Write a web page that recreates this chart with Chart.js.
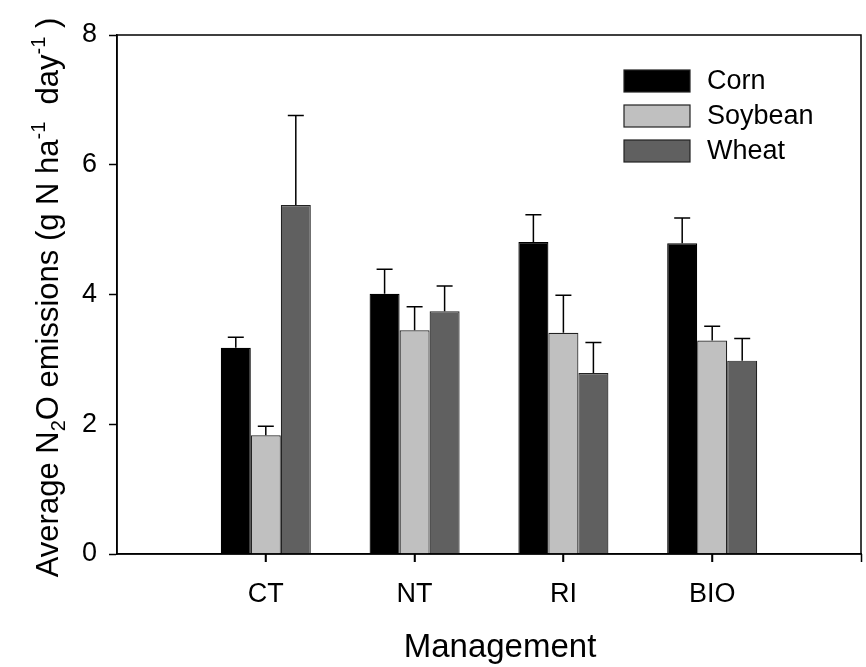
<!DOCTYPE html>
<html>
<head>
<meta charset="utf-8">
<script src="https://cdn.jsdelivr.net/npm/chart.js@4.4.1/dist/chart.umd.min.js"></script>
<style>
  html, body { margin: 0; padding: 0; background: #fff; }
  #chart { display: block; }
</style>
</head>
<body>
<canvas id="chart" width="866" height="667"></canvas>
<script>
// average N2O emissions per management system
let categories = ["CT", "NT", "RI", "BIO"];
let corn = [3.18, 4.01, 4.81, 4.79];
let cornErr = [0.16, 0.38, 0.42, 0.39];
let soybean = [1.83, 3.45, 3.41, 3.29];
let soybeanErr = [0.14, 0.36, 0.58, 0.22];
let wheat = [5.38, 3.74, 2.79, 2.98];
let wheatErr = [1.38, 0.39, 0.47, 0.34];
let yTicks = [0, 2, 4, 6, 8];

const FONT = "'Liberation Sans', Arial, Helvetica, sans-serif";

// empty slot on each side so the groups sit one step in from the frame
let labels = [""].concat(categories, [""]);
function pad(arr) { return [null].concat(arr, [null]); }

// helper axis: its cell boundaries fall on the group centres, so its
// grid ticks give the marks under CT/NT/RI/BIO
let tickSlots = categories.map(() => "").concat([""]);

/* upward error bars */
const errorBars = {
  id: "errorBars",
  afterDatasetsDraw(chart) {
    let ctx = chart.ctx;
    let y = chart.scales.y;
    ctx.save();
    ctx.strokeStyle = "#000";
    ctx.lineWidth = 1.5;
    chart.data.datasets.forEach((ds, di) => {
      let meta = chart.getDatasetMeta(di);
      meta.data.forEach((bar, i) => {
        let v = ds.data[i];
        if (v == null) return;
        let top = y.getPixelForValue(v + ds.errors[i - 1]);
        ctx.beginPath();
        ctx.moveTo(bar.x, bar.y);
        ctx.lineTo(bar.x, top);
        ctx.moveTo(bar.x - 8, top);
        ctx.lineTo(bar.x + 8, top);
        ctx.stroke();
      });
    });
    ctx.restore();
  }
};

/* frame, legend and axis titles */
const decor = {
  id: "decor",
  afterDraw(chart) {
    let ctx = chart.ctx;
    let a = chart.chartArea;
    let xs = chart.scales.x;
    ctx.save();
    ctx.strokeStyle = "#000";
    ctx.lineWidth = 1.5;
    ctx.strokeRect(a.left, a.top, a.right - a.left, a.bottom - a.top);

    // tick marks under the groups
    ctx.beginPath();
    categories.forEach((c, i) => {
      let px = Math.round(xs.getPixelForValue(i + 1));
      ctx.moveTo(px, a.bottom);
      ctx.lineTo(px, a.bottom + 8);
    });
    ctx.stroke();

    // legend
    ctx.font = "27px " + FONT;
    ctx.textBaseline = "middle";
    ctx.textAlign = "left";
    chart.data.datasets.forEach((ds, i) => {
      let top = 70 + i * 35;
      ctx.fillStyle = ds.backgroundColor;
      ctx.fillRect(624, top, 66, 22);
      ctx.lineWidth = 1.2;
      ctx.strokeStyle = "#222";
      ctx.strokeRect(624, top, 66, 22);
      ctx.fillStyle = "#000";
      ctx.fillText(ds.label, 707, top + 12);
    });

    // x title
    ctx.font = "33px " + FONT;
    ctx.textAlign = "center";
    ctx.textBaseline = "alphabetic";
    ctx.fillText("Management", 500, 657);

    // y title with sub/superscripts
    let size = 31, small = 20;
    let parts = [
      ["Average N", 0], ["2", 1], ["O emissions (g N ha", 0], ["-1", -1],
      ["  day", 0], ["-1", -1], [" )", 0]
    ];
    let widths = parts.map(p => {
      ctx.font = (p[1] ? small : size) + "px " + FONT;
      return ctx.measureText(p[0]).width;
    });
    let total = widths.reduce((s, w) => s + w, 0);
    ctx.translate(58, (a.top + a.bottom) / 2 + 3);
    ctx.rotate(-Math.PI / 2);
    ctx.textAlign = "left";
    let x = -total / 2;
    parts.forEach((p, i) => {
      ctx.font = (p[1] ? small : size) + "px " + FONT;
      let dy = p[1] === 1 ? 7 : p[1] === -1 ? -13 : 0;
      ctx.fillText(p[0], x, dy);
      x += widths[i];
    });
    ctx.restore();
  }
};

new Chart(document.getElementById("chart"), {
  type: "bar",
  data: {
    labels: labels,
    datasets: [
      { label: "Corn", data: pad(corn), errors: cornErr, backgroundColor: "#000000", borderColor: "#000000" },
      { label: "Soybean", data: pad(soybean), errors: soybeanErr, backgroundColor: "#c0c0c0", borderColor: "#222222" },
      { label: "Wheat", data: pad(wheat), errors: wheatErr, backgroundColor: "#606060", borderColor: "#222222" }
    ]
  },
  options: {
    responsive: false,
    animation: false,
    devicePixelRatio: 1,
    layout: { padding: { top: 35, right: 5, left: 0, bottom: 0 } },
    datasets: {
      bar: { borderWidth: 1.2, categoryPercentage: 0.605, barPercentage: 1.0 }
    },
    plugins: { legend: { display: false }, tooltip: { enabled: false } },
    scales: {
      x: {
        type: "category",
        offset: false,
        weight: 0,
        grid: { offset: false, display: false },
        border: { color: "#000", width: 1.5 },
        ticks: { color: "#000", font: { family: FONT, size: 27 }, padding: 16, maxRotation: 0, autoSkip: false },
        afterFit: s => { s.height = 113; s.paddingLeft = 0; s.paddingRight = 0; }
      },
      xt: {
        type: "category",
        labels: tickSlots,
        position: "bottom",
        offset: true,
        weight: -1,
        grid: {
          offset: true,
          drawOnChartArea: false,
          tickLength: 8,
          tickWidth: 1.5,
          tickColor: c => (c.index === 0 || c.index === tickSlots.length) ? "rgba(0,0,0,0)" : "#000"
        },
        border: { display: false },
        ticks: { display: false },
        afterFit: s => { s.height = 0; s.paddingLeft = 0; s.paddingRight = 0; }
      },
      y: {
        min: 0,
        max: 8,
        afterBuildTicks: s => { s.ticks = yTicks.map(v => ({ value: v })); },
        grid: { drawOnChartArea: false, tickLength: 8, tickWidth: 1.5, tickColor: "#000" },
        border: { color: "#000", width: 1.5 },
        ticks: { color: "#000", font: { family: FONT, size: 27 }, padding: 12 },
        afterFit: s => { s.width = 117; }
      }
    }
  },
  plugins: [errorBars, decor]
});
</script>
</body>
</html>
